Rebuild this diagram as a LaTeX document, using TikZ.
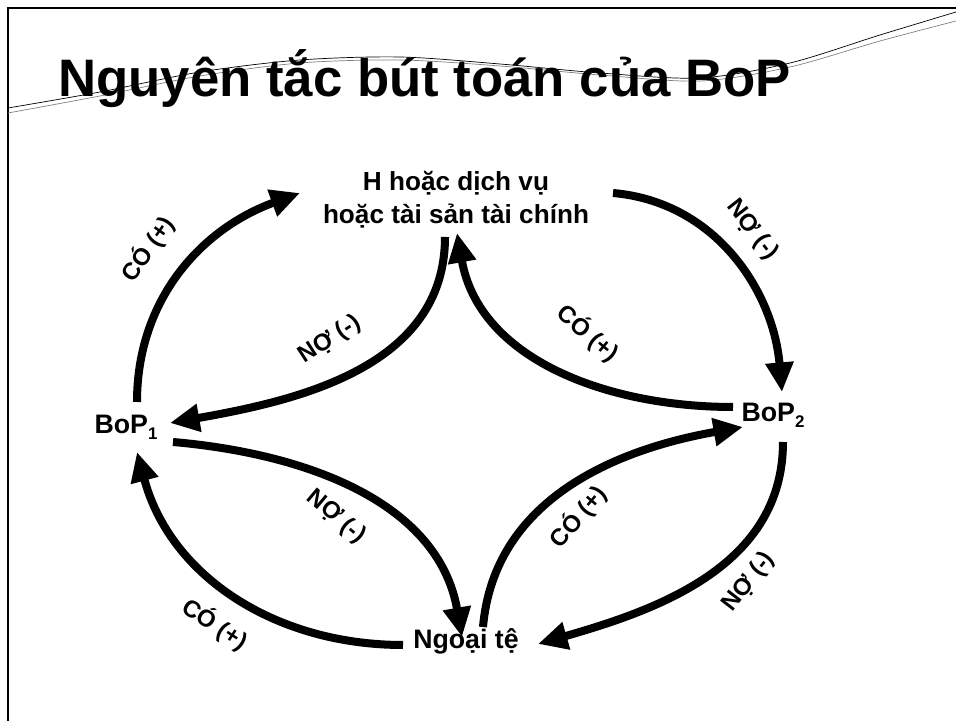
\documentclass[tikz,border=0pt]{standalone}
\usepackage{fontspec}
\setmainfont{Liberation Sans}
\usetikzlibrary{arrows.meta}

\newcommand{\lowsub}[1]{\raisebox{-0.45ex}{\fontsize{12}{12}\selectfont #1}}

\begin{document}
\begin{tikzpicture}[x=0.025cm, y=0.025cm,
  flow/.style={line width=5.7pt, -{Triangle[length=21pt, width=19pt]}},
  acct/.style={font=\bfseries\fontsize{19}{23.5}\selectfont, inner sep=0pt},
  tag/.style={font=\bfseries\fontsize{17}{20}\selectfont, inner sep=0pt}]
  \useasboundingbox (0,0) rectangle (956,721);

  % Slide frame
  \draw[line width=1.4pt] (8,0) -- (8,713) -- (956,713);
  % Title swoosh
  \draw[line width=0.5pt] plot[smooth] coordinates {(8,613) (100,629) (200,649) (300,661) (400,664) (500,657) (600,648) (700,643) (790,658) (880,686) (956,709)};
  \draw[line width=0.5pt, gray] plot[smooth] coordinates {(8,608) (100,625) (200,645) (300,658) (400,661) (500,655) (600,646) (700,640) (790,654) (880,680) (956,700)};

  % Title
  \node[anchor=base west, font=\bfseries\fontsize{37.5}{44}\selectfont, inner sep=0pt] (title) at (58,624) {Nguyên tắc bút toán của BoP};

  % Accounts
  \node[acct, font=\bfseries\fontsize{18.6}{23.5}\selectfont, align=center] (hang) at (456,521) {H hoặc dịch vụ\\hoặc tài sản tài chính};
  \node[acct] (bop1) at (126,294) {BoP\lowsub{1}};
  \node[acct] (bop2) at (773,306) {BoP\lowsub{2}};
  \node[acct] (ngte) at (466,80) {Ngoại tệ};

  % Outer arrows
  \draw[flow] ([shift={(11,25)}]bop1.center) to[out=90, in=200] ([shift={(-156,7)}]hang.center);
  \draw[flow] ([shift={(157,7)}]hang.center) to[out=-5, in=95] ([shift={(9,23)}]bop2.center);
  \draw[flow] ([shift={(10,-27)}]bop2.center) to[out=-90, in=16] ([shift={(72,-3)}]ngte.center);
  \draw[flow] ([shift={(-63,-4)}]ngte.center) to[out=180, in=285] ([shift={(11,-25)}]bop1.center);
  % Inner arrows
  \draw[flow] ([shift={(-11,-37)}]hang.center) to[out=-90, in=10] ([shift={(44,4)}]bop1.center);
  \draw[flow] ([shift={(-40,8)}]bop2.center) to[out=180, in=280] ([shift={(1,-33)}]hang.center);
  \draw[flow] ([shift={(47,-15)}]bop1.center) to[out=-5, in=100] ([shift={(-4,4)}]ngte.center);
  \draw[flow] ([shift={(17,14)}]ngte.center) to[out=85, in=190] ([shift={(-30,-12)}]bop2.center);

  % Labels
  \node[tag, rotate=55] (co1) at (148,472) {CÓ (+)};
  \node[tag, rotate=-52] (no1) at (752,491) {NỢ (-)};
  \node[tag, rotate=33] (no2) at (330,381) {NỢ (-)};
  \node[tag, rotate=-40] (co2) at (588,388) {CÓ (+)};
  \node[tag, rotate=-40] (no3) at (336,204) {NỢ (-)};
  \node[tag, rotate=-33] (co3) at (215,97) {CÓ (+)};
  \node[tag, rotate=50] (co4) at (578,204) {CÓ (+)};
  \node[tag, rotate=52] (no4) at (749,139) {NỢ (-)};
\end{tikzpicture}
\end{document}
